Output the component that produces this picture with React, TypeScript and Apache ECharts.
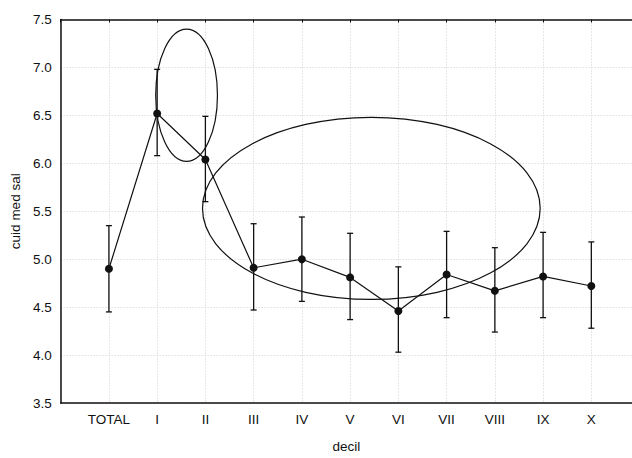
import { useEffect, useRef } from 'react';
import * as echarts from 'echarts';

const categories = ['TOTAL', 'I', 'II', 'III', 'IV', 'V', 'VI', 'VII', 'VIII', 'IX', 'X'];
const means = [4.9, 6.52, 6.04, 4.91, 5.0, 4.81, 4.46, 4.84, 4.67, 4.82, 4.72];
const upper = [5.35, 6.98, 6.49, 5.37, 5.44, 5.27, 4.92, 5.29, 5.12, 5.28, 5.18];
const lower = [4.45, 6.08, 5.6, 4.47, 4.56, 4.37, 4.03, 4.39, 4.24, 4.39, 4.28];

// hand-drawn annotation ellipses, in axis units (x: category position, TOTAL = 1)
const ellipseCenterX = [2.61, 6.44];
const ellipseCenterY = [6.71, 5.53];
const ellipseRadiusX = [0.64, 3.5];
const ellipseRadiusY = [0.69, 0.95];

const FONT = "'Liberation Sans', Arial, sans-serif";
const INK = '#111';
// the plot area is cut by the right edge of the picture
const X_MAX = 11.843;

export default function App() {
  const ref = useRef<HTMLDivElement>(null);
  useEffect(() => {
    document.body.style.margin = '0';
    const chart = echarts.init(ref.current!, undefined, { renderer: 'svg' });
    const pos = categories.map((_, i) => i + 1);
    const catLabel = (v: number) => (Number.isInteger(v) ? categories[v - 1] ?? '' : '');
    chart.setOption({
      animation: false,
      backgroundColor: '#fff',
      grid: { left: 60, top: 19.5, right: 0, bottom: 48.7, containLabel: false },
      xAxis: [
        {
          type: 'value',
          min: 0,
          max: X_MAX,
          interval: 1,
          name: 'decil',
          nameLocation: 'middle',
          nameGap: 36,
          nameTextStyle: { color: INK, fontFamily: FONT, fontSize: 13.5 },
          axisLine: { show: true, lineStyle: { color: INK, width: 1.5 } },
          axisTick: { show: false },
          axisLabel: {
            color: INK,
            fontFamily: FONT,
            fontSize: 13.5,
            margin: 9,
            showMaxLabel: false,
            formatter: catLabel,
          },
          splitLine: { show: true, lineStyle: { color: '#cfcfcf', type: [1, 2], width: 1 } },
        },
        {
          type: 'value',
          position: 'top',
          min: 0,
          max: X_MAX,
          interval: 1,
          axisLine: { show: true, onZero: false, lineStyle: { color: INK, width: 1.5 } },
          axisTick: { show: true, inside: true, length: 3, lineStyle: { color: INK, width: 1 } },
          axisLabel: { show: false },
          splitLine: { show: false },
        },
      ],
      yAxis: {
        type: 'value',
        min: 3.5,
        max: 7.5,
        interval: 0.5,
        name: 'cuid med sal',
        nameLocation: 'middle',
        nameRotate: 90,
        nameGap: 37,
        nameTextStyle: { color: INK, fontFamily: FONT, fontSize: 13.5 },
        axisLine: { show: true, onZero: false, lineStyle: { color: INK, width: 1.5 } },
        axisTick: { show: false },
        axisLabel: {
          color: INK,
          fontFamily: FONT,
          fontSize: 13.5,
          margin: 9,
          formatter: (v: number) => v.toFixed(1),
        },
        splitLine: { show: true, lineStyle: { color: '#cfcfcf', type: [1, 2], width: 1 } },
      },
      series: [
        {
          type: 'custom',
          name: 'errors',
          xAxisIndex: 0,
          clip: false,
          encode: { x: 0, y: [1, 2] },
          data: pos.map((p, i) => [p, lower[i], upper[i]]),
          renderItem: (params: any, api: any) => {
            const x = api.value(0);
            const lo = api.coord([x, api.value(1)]);
            const hi = api.coord([x, api.value(2)]);
            const w = 3;
            const st = { stroke: INK, lineWidth: 1.3 };
            return {
              type: 'group',
              children: [
                { type: 'line', shape: { x1: lo[0], y1: lo[1], x2: hi[0], y2: hi[1] }, style: st },
                { type: 'line', shape: { x1: hi[0] - w, y1: hi[1], x2: hi[0] + w, y2: hi[1] }, style: st },
                { type: 'line', shape: { x1: lo[0] - w, y1: lo[1], x2: lo[0] + w, y2: lo[1] }, style: st },
              ],
            };
          },
          z: 2,
        },
        {
          type: 'line',
          name: 'mean',
          data: pos.map((p, i) => [p, means[i]]),
          symbol: 'circle',
          symbolSize: 8,
          itemStyle: { color: INK },
          lineStyle: { color: INK, width: 1.2 },
          z: 3,
        },
        {
          type: 'custom',
          name: 'ellipses',
          clip: false,
          encode: { x: 0, y: 1 },
          data: ellipseCenterX.map((cx, i) => [cx, ellipseCenterY[i], ellipseRadiusX[i], ellipseRadiusY[i]]),
          renderItem: (params: any, api: any) => {
            const cx = api.value(0);
            const cy = api.value(1);
            const c = api.coord([cx, cy]);
            const e = api.coord([cx + api.value(2), cy + api.value(3)]);
            return {
              type: 'ellipse',
              shape: { cx: c[0], cy: c[1], rx: e[0] - c[0], ry: c[1] - e[1] },
              style: { fill: 'none', stroke: INK, lineWidth: 1.2 },
            };
          },
          z: 4,
        },
      ],
    });
    return () => chart.dispose();
  }, []);
  return (
    <div
      ref={ref}
      style={{ position: 'fixed', left: 0, top: 0, width: 632, height: 458, overflow: 'hidden' }}
    />
  );
}
